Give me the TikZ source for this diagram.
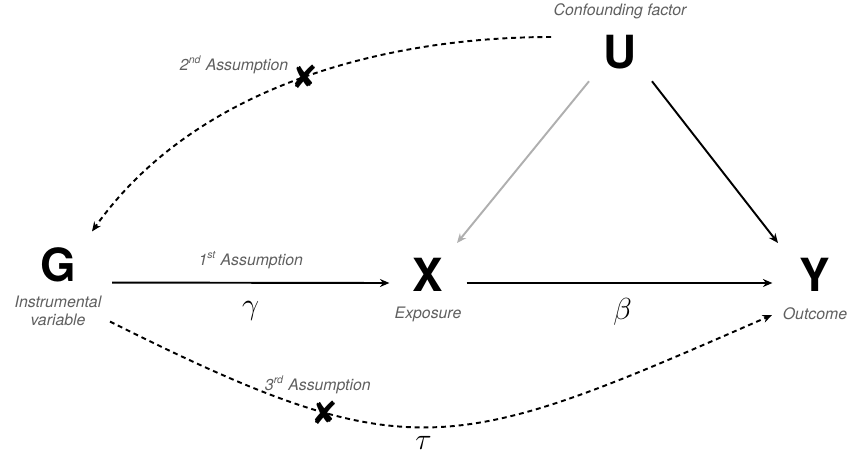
\documentclass[tikz,border=0pt]{standalone}
\usepackage{fontspec}
\setsansfont{TeX Gyre Heros}
\newfontfamily\symbfont{DejaVu Sans}
\usetikzlibrary{arrows.meta,calc,positioning}
\definecolor{notecolor}{RGB}{95,95,95}
\definecolor{confcolor}{RGB}{175,175,175}
\tikzset{
  varnode/.style={font=\sffamily\bfseries\fontsize{26}{26}\selectfont,inner sep=0pt},
  notenode/.style={font=\sffamily\itshape\fontsize{9}{10.2}\selectfont,text=notecolor,align=center,inner sep=0pt},
  coefnode/.style={font=\fontsize{18}{18}\selectfont,inner sep=0pt},
  causearrow/.style={-{Stealth[length=1.9mm,width=1.6mm]},line width=1.1pt},
  violarrow/.style={causearrow,dash pattern=on 2.8pt off 2.2pt},
  crossmark/.style={font=\symbfont\fontsize{18}{18}\selectfont,inner sep=0pt}
}

\begin{document}
\begin{tikzpicture}[x=0.02cm,y=-0.02cm]
  \useasboundingbox (0,0) rectangle (856,454);

  % --- Variables ---
  \node[varnode] (G) at (58,265) {G};
  \node[varnode] (X) at (428,275) {X};
  \node[varnode] (Y) at (815,275) {Y};
  \node[varnode] (U) at (620,52) {U};

  % --- Captions ---
  \node[notenode,below=2.6mm of G] (Gnote) {Instrumental\\variable};
  \node[notenode,below=3mm of X] (Xnote) {Exposure};
  \node[notenode,below=3mm of Y] (Ynote) {Outcome};
  \node[notenode,above=3mm of U] (Unote) {Confounding factor};

  % --- Causal path G -> X -> Y ---
  \draw[causearrow]
    ($(G.south east)+(36,0)$) --
    node[notenode,above=2.6mm] (a1) {1\textsuperscript{st} Assumption}
    node[coefnode,below=3.6mm] (gam) {$\gamma$}
    ($(X.west)+(-23,8)$);

  \draw[causearrow]
    ($(X.east)+(23,8)$) --
    node[coefnode,below=2.8mm,xshift=0.6mm] (bet) {$\beta$}
    ($(Y.west)+(-27,8)$);

  % --- Confounder ---
  \draw[causearrow,draw=confcolor]
    ($(U.south)+(-31,12)$) -- ($(X.north)+(29,-15)$);
  \draw[causearrow]
    ($(U.south)+(32,12)$) -- ($(Y.north)+(-37,-15)$);

  % --- Violated paths ---
  \draw[violarrow]
    ($(U.west)+(-52,-15)$)
    .. controls +(-153,0) and +(108,-152) ..
    node[crossmark,pos=0.5] (x2) {✘}
    ($(G.north)+(34,-16)$);
  \node[notenode,left=0.4mm of x2.north west] (a2) {2\textsuperscript{nd} Assumption};

  \draw[violarrow]
    ($(G.south)+(52,39)$)
    .. controls +(300,150) and +(-320,140) ..
    node[crossmark,pos=0.3] (x3) {✘}
    node[coefnode,pos=0.5,below=1.7mm,xshift=-2mm] (tau) {$\tau$}
    ($(Y.south)+(-43,23)$);
  \node[notenode,above=1.2mm of x3,xshift=-1.4mm] (a3) {3\textsuperscript{rd} Assumption};

\end{tikzpicture}
\end{document}
